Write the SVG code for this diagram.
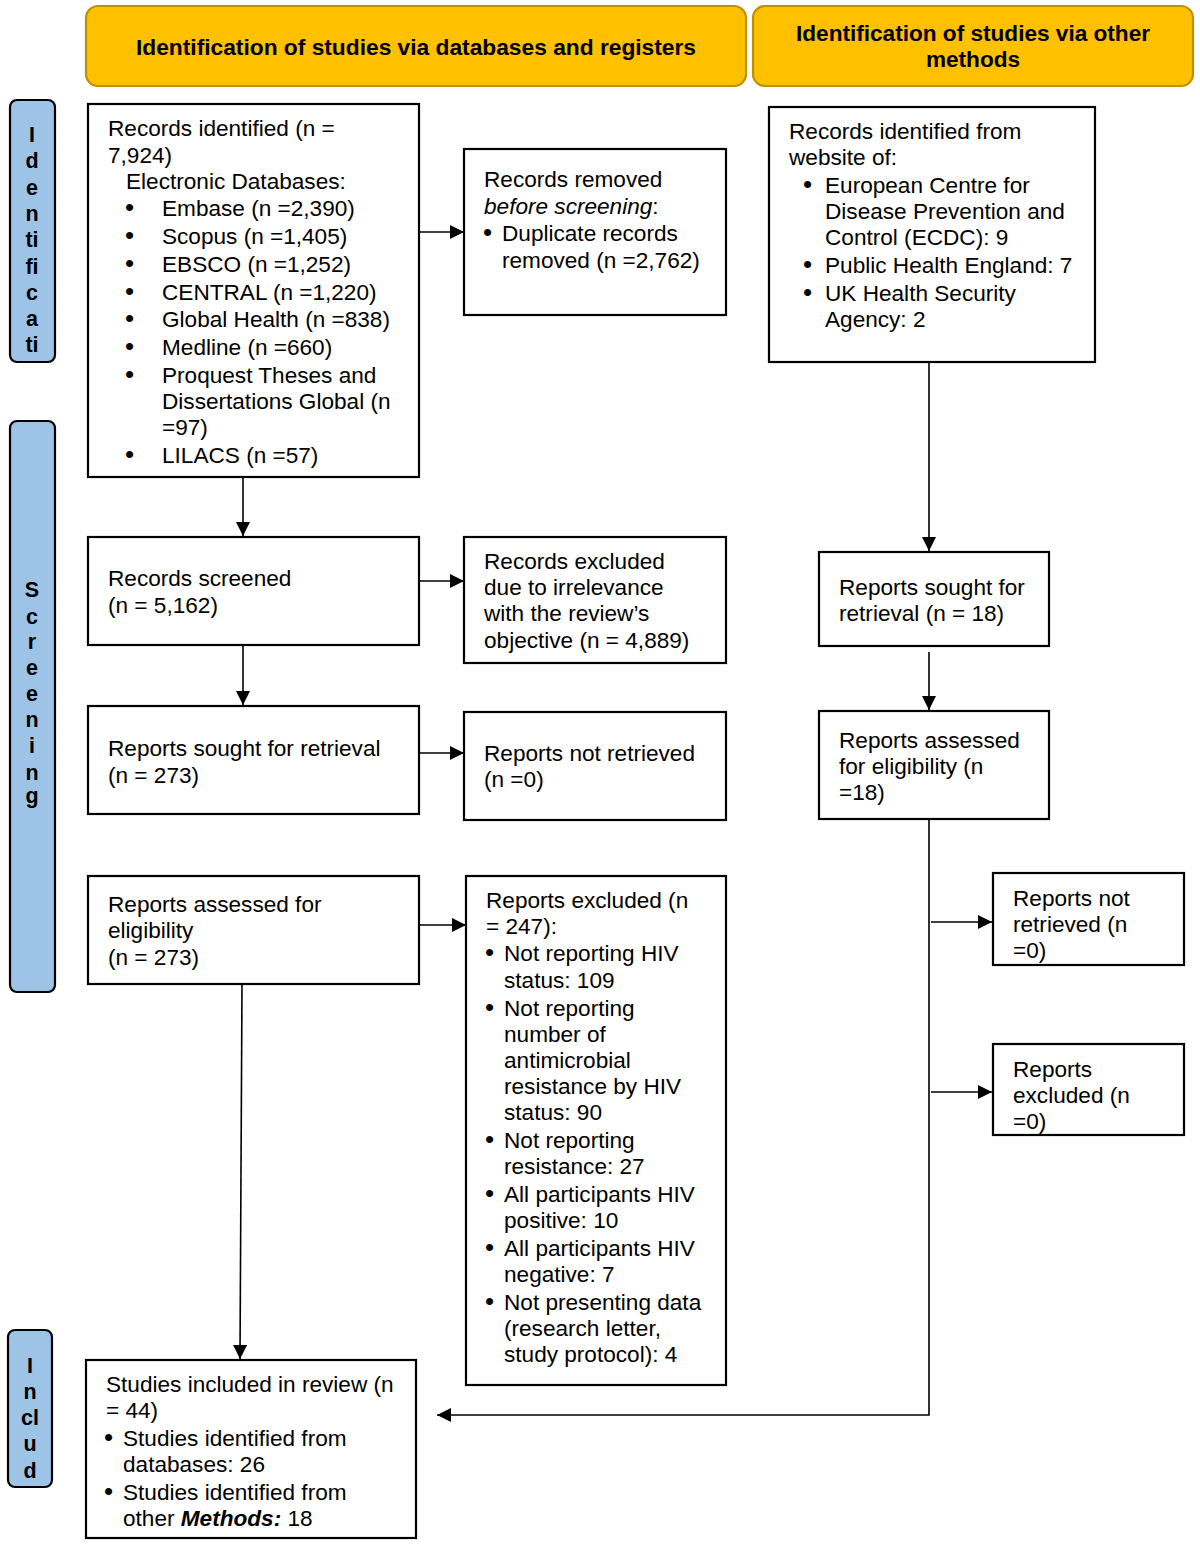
<svg xmlns="http://www.w3.org/2000/svg" width="1200" height="1548" viewBox="0 0 1200 1548">
<style>
text{font-family:"Liberation Sans",Arial,sans-serif;font-size:22.6px;fill:#000}
.box{fill:#fff;stroke:#000;stroke-width:2.2}
.hdr{fill:#FFC000;stroke:#BF9000;stroke-width:2.2}
.side{fill:#9DC3E6;stroke:#000;stroke-width:2.2}
.ht{font-weight:bold;text-anchor:middle}
.st{font-weight:bold;font-size:21.5px;text-anchor:middle}
.ln{stroke:#000;stroke-width:1.6;fill:none}
</style>
<defs>
<marker id="ah" markerUnits="userSpaceOnUse" markerWidth="16" markerHeight="14" refX="14" refY="7" orient="auto">
<path d="M0,0 L14,7 L0,14 Z" fill="#000"/>
</marker>
</defs>
<g id="header-left">
<rect class="hdr" x="86" y="6" width="660" height="80" rx="12"/>
<text class="ht" x="416" y="55" font-size="24.5" textLength="560" lengthAdjust="spacingAndGlyphs">Identification of studies via databases and registers</text>
</g>
<g id="header-right">
<rect class="hdr" x="753" y="6" width="440" height="80" rx="12"/>
<text class="ht" x="973" y="41">Identification of studies via other</text>
<text class="ht" x="973" y="67">methods</text>
</g>
<g id="side-identification">
<rect class="side" x="10" y="100" width="45" height="262" rx="7"/>
<text class="st" x="32"><tspan x="32" y="142">I</tspan><tspan x="32" y="168">d</tspan><tspan x="32" y="195">e</tspan><tspan x="32" y="221">n</tspan><tspan x="32" y="247">ti</tspan><tspan x="32" y="274">fi</tspan><tspan x="32" y="300">c</tspan><tspan x="32" y="326">a</tspan><tspan x="32" y="352">ti</tspan></text>
</g>
<g id="side-screening">
<rect class="side" x="10" y="421" width="45" height="571" rx="7"/>
<text class="st" x="32"><tspan x="32" y="597">S</tspan><tspan x="32" y="624">c</tspan><tspan x="32" y="649">r</tspan><tspan x="32" y="675">e</tspan><tspan x="32" y="701">e</tspan><tspan x="32" y="727">n</tspan><tspan x="32" y="753">i</tspan><tspan x="32" y="780">n</tspan><tspan x="32" y="803">g</tspan></text>
</g>
<g id="side-included">
<rect class="side" x="8" y="1330" width="44" height="157" rx="7"/>
<text class="st" x="30"><tspan x="30" y="1373">I</tspan><tspan x="30" y="1399">n</tspan><tspan x="30" y="1425">cl</tspan><tspan x="30" y="1451">u</tspan><tspan x="30" y="1478">d</tspan></text>
</g>
<g id="records-identified">
<rect class="box" x="88" y="104" width="331" height="373"/>
<text x="108" y="136">Records identified (n =</text>
<text x="108" y="163">7,924)</text>
<text x="126" y="189">Electronic Databases:</text>
<text x="125" y="216"><tspan font-size="26">•</tspan><tspan x="162">Embase (n =2,390)</tspan></text>
<text x="125" y="244"><tspan font-size="26">•</tspan><tspan x="162">Scopus (n =1,405)</tspan></text>
<text x="125" y="272"><tspan font-size="26">•</tspan><tspan x="162">EBSCO (n =1,252)</tspan></text>
<text x="125" y="300"><tspan font-size="26">•</tspan><tspan x="162">CENTRAL (n =1,220)</tspan></text>
<text x="125" y="327"><tspan font-size="26">•</tspan><tspan x="162">Global Health (n =838)</tspan></text>
<text x="125" y="355"><tspan font-size="26">•</tspan><tspan x="162">Medline (n =660)</tspan></text>
<text x="125" y="383"><tspan font-size="26">•</tspan><tspan x="162">Proquest Theses and</tspan></text>
<text x="162" y="409">Dissertations Global (n</text>
<text x="162" y="435">=97)</text>
<text x="125" y="463"><tspan font-size="26">•</tspan><tspan x="162">LILACS (n =57)</tspan></text>
</g>
<g id="records-removed">
<rect class="box" x="464" y="149" width="262" height="166"/>
<text x="484" y="187">Records removed</text>
<text x="484" y="214"><tspan font-style="italic">before screening</tspan>:</text>
<text x="483" y="241"><tspan font-size="26">•</tspan><tspan x="502">Duplicate records</tspan></text>
<text x="502" y="268">removed (n =2,762)</text>
</g>
<g id="records-screened">
<rect class="box" x="88" y="537" width="331" height="108"/>
<text x="108" y="586">Records screened</text>
<text x="108" y="613">(n = 5,162)</text>
</g>
<g id="records-excluded">
<rect class="box" x="464" y="537" width="262" height="126"/>
<text x="484" y="569">Records excluded</text>
<text x="484" y="595">due to irrelevance</text>
<text x="484" y="621">with the review’s</text>
<text x="484" y="648">objective (n = 4,889)</text>
</g>
<g id="reports-sought">
<rect class="box" x="88" y="706" width="331" height="108"/>
<text x="108" y="756">Reports sought for retrieval</text>
<text x="108" y="783">(n = 273)</text>
</g>
<g id="reports-not-retrieved">
<rect class="box" x="464" y="712" width="262" height="108"/>
<text x="484" y="761">Reports not retrieved</text>
<text x="484" y="787">(n =0)</text>
</g>
<g id="reports-assessed">
<rect class="box" x="88" y="876" width="331" height="108"/>
<text x="108" y="912">Reports assessed for</text>
<text x="108" y="938">eligibility</text>
<text x="108" y="965">(n = 273)</text>
</g>
<g id="reports-excluded">
<rect class="box" x="466" y="876" width="260" height="509"/>
<text x="486" y="908">Reports excluded (n</text>
<text x="486" y="934">= 247):</text>
<text x="485" y="961"><tspan font-size="26">•</tspan><tspan x="504">Not reporting HIV</tspan></text>
<text x="504" y="988">status: 109</text>
<text x="485" y="1016"><tspan font-size="26">•</tspan><tspan x="504">Not reporting</tspan></text>
<text x="504" y="1042">number of</text>
<text x="504" y="1068">antimicrobial</text>
<text x="504" y="1094">resistance by HIV</text>
<text x="504" y="1120">status: 90</text>
<text x="485" y="1148"><tspan font-size="26">•</tspan><tspan x="504">Not reporting</tspan></text>
<text x="504" y="1174">resistance: 27</text>
<text x="485" y="1202"><tspan font-size="26">•</tspan><tspan x="504">All participants HIV</tspan></text>
<text x="504" y="1228">positive: 10</text>
<text x="485" y="1256"><tspan font-size="26">•</tspan><tspan x="504">All participants HIV</tspan></text>
<text x="504" y="1282">negative: 7</text>
<text x="485" y="1310"><tspan font-size="26">•</tspan><tspan x="504">Not presenting data</tspan></text>
<text x="504" y="1336">(research letter,</text>
<text x="504" y="1362">study protocol): 4</text>
</g>
<g id="studies-included">
<rect class="box" x="86" y="1360" width="330" height="178"/>
<text x="106" y="1392">Studies included in review (n</text>
<text x="106" y="1418">= 44)</text>
<text x="104" y="1446"><tspan font-size="26">•</tspan><tspan x="123">Studies identified from</tspan></text>
<text x="123" y="1472">databases: 26</text>
<text x="104" y="1500"><tspan font-size="26">•</tspan><tspan x="123">Studies identified from</tspan></text>
<text x="123" y="1526">other <tspan font-weight="bold" font-style="italic">Methods:</tspan> 18</text>
</g>
<g id="website-records">
<rect class="box" x="769" y="107" width="326" height="255"/>
<text x="789" y="139">Records identified from</text>
<text x="789" y="165">website of:</text>
<text x="803" y="193"><tspan font-size="26">•</tspan><tspan x="825">European Centre for</tspan></text>
<text x="825" y="219">Disease Prevention and</text>
<text x="825" y="245">Control (ECDC): 9</text>
<text x="803" y="273"><tspan font-size="26">•</tspan><tspan x="825">Public Health England: 7</tspan></text>
<text x="803" y="301"><tspan font-size="26">•</tspan><tspan x="825">UK Health Security</tspan></text>
<text x="825" y="327">Agency: 2</text>
</g>
<g id="other-sought">
<rect class="box" x="819" y="552" width="230" height="94"/>
<text x="839" y="595">Reports sought for</text>
<text x="839" y="621">retrieval (n = 18)</text>
</g>
<g id="other-assessed">
<rect class="box" x="819" y="711" width="230" height="108"/>
<text x="839" y="748">Reports assessed</text>
<text x="839" y="774">for eligibility (n</text>
<text x="839" y="800">=18)</text>
</g>
<g id="other-not-retrieved">
<rect class="box" x="993" y="873" width="191" height="92"/>
<text x="1013" y="906">Reports not</text>
<text x="1013" y="932">retrieved (n</text>
<text x="1013" y="958">=0)</text>
</g>
<g id="other-excluded">
<rect class="box" x="993" y="1044" width="191" height="91"/>
<text x="1013" y="1077">Reports</text>
<text x="1013" y="1103">excluded (n</text>
<text x="1013" y="1129">=0)</text>
</g>
<g id="connectors">
<line class="ln" x1="419" y1="232" x2="464" y2="232" marker-end="url(#ah)"/>
<line class="ln" x1="243" y1="477" x2="243" y2="536" marker-end="url(#ah)"/>
<line class="ln" x1="419" y1="581" x2="464" y2="581" marker-end="url(#ah)"/>
<line class="ln" x1="243" y1="645" x2="243" y2="705" marker-end="url(#ah)"/>
<line class="ln" x1="419" y1="753" x2="464" y2="753" marker-end="url(#ah)"/>
<line class="ln" x1="419" y1="925" x2="466" y2="925" marker-end="url(#ah)"/>
<line class="ln" x1="242" y1="984" x2="240" y2="1359" marker-end="url(#ah)"/>
<line class="ln" x1="929" y1="362" x2="929" y2="551" marker-end="url(#ah)"/>
<line class="ln" x1="929" y1="652" x2="929" y2="710" marker-end="url(#ah)"/>
<polyline class="ln" points="929,819 929,1415 437,1415" marker-end="url(#ah)"/>
<line class="ln" x1="931" y1="922" x2="992" y2="922" marker-end="url(#ah)"/>
<line class="ln" x1="931" y1="1092" x2="992" y2="1092" marker-end="url(#ah)"/>
</g>
</svg>
